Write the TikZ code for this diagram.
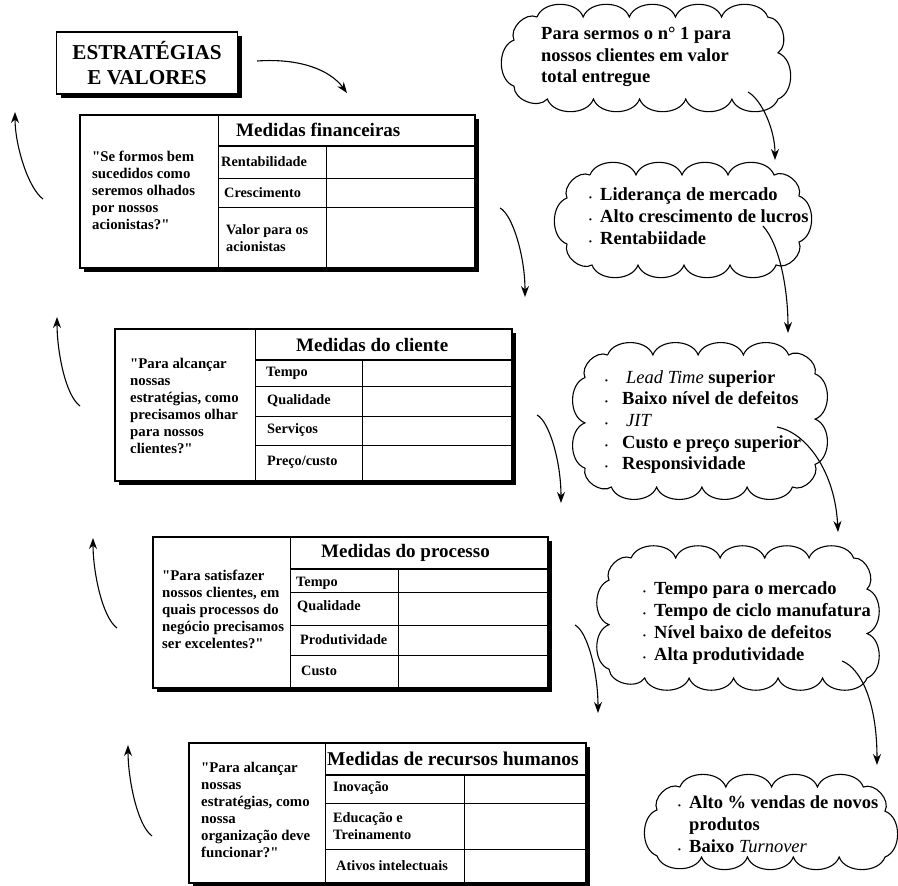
\documentclass[tikz,border=0pt]{standalone}
\usepackage{fontspec}
\setmainfont{Liberation Serif}
\usepackage{xcolor}
\usetikzlibrary{arrows.meta,shadows}

\tikzset{
  frame/.style={draw=black, line width=1.4pt, fill=white,
    drop shadow={shadow xshift=4pt, shadow yshift=-4pt, fill=black, opacity=1}},
  cell/.style={black, line width=0.8pt},
  hline/.style={black, line width=1.4pt},
  flow/.style={-{Stealth[length=11pt,width=8pt]}, line width=1.1pt},
  head/.style={anchor=west, inner sep=0pt, font=\fontsize{19}{21}\selectfont\bfseries},
  ask/.style={anchor=west, align=left, inner sep=0pt, font=\fontsize{14.8}{17}\selectfont\bfseries},
  row/.style={anchor=west, align=left, inner sep=0pt, font=\fontsize{14.3}{16.5}\selectfont\bfseries},
  puff/.style={draw, line width=1.1pt, fill=white},
  say/.style={anchor=west, align=left, inner sep=0pt, font=\fontsize{18.5}{21.7}\selectfont\bfseries},
}
\newcommand{\blt}[1][11pt]{\makebox[#1][l]{\footnotesize\textbullet}}
\newcommand{\qq}{\textquotedbl}
% nuvem: nome, cx, cy, a, b, bolhas
\newcommand{\nuvem}[6]{%
  \foreach \k in {0,...,#6} {
    \pgfmathsetmacro{\s}{mod((\k+0.5)*(4*#4+4*#5)/#6, 4*#4+4*#5)}
    \pgfmathsetmacro{\px}{ifthenelse(\s<2*#4, -#4+\s, ifthenelse(\s<2*#4+2*#5, #4, ifthenelse(\s<4*#4+2*#5, #4-(\s-2*#4-2*#5), -#4)))}
    \pgfmathsetmacro{\py}{ifthenelse(\s<2*#4, -#5, ifthenelse(\s<2*#4+2*#5, -#5+\s-2*#4, ifthenelse(\s<4*#4+2*#5, #5, #5-(\s-4*#4-2*#5))))}
    \coordinate (#1-\k) at (#2+\px, #3+\py);
  }
  \draw[puff] (#1-0) \foreach \k in {1,...,#6} { to[bend left=70] (#1-\k) };
}

\begin{document}
\begin{tikzpicture}[x=1pt, y=-1pt]
  \useasboundingbox (0,0) rectangle (898,886);

  %% titulo
  \node[frame, minimum width=181pt, minimum height=62pt, align=center,
        font=\fontsize{21.2}{25}\selectfont\bfseries] (title) at (147,63) {ESTRATÉGIAS\\E VALORES};

  %% financeiras
  \draw[frame] (80,115) rectangle (475,268);
  \draw[cell] (218,115) -- (218,268);
  \draw[hline] (218,146) -- (475,146);
  \draw[cell] (218,178) -- (475,178);
  \draw[cell] (218,207) -- (475,207);
  \draw[cell] (326,146) -- (326,268);
  \node[head] (fin-head) at (236,130) {Medidas financeiras};
  \node[ask] (fin-ask) at (92,190) {\qq Se formos bem\\sucedidos como\\seremos olhados\\por nossos\\acionistas?\qq};
  \node[row] (fin-r1) at (221,162) {Rentabilidade};
  \node[row] (fin-r2) at (224,193) {Crescimento};
  \node[row] (fin-r3) at (226,238) {Valor para os\\acionistas};

  %% cliente
  \draw[frame] (115,329) rectangle (512,481);
  \draw[cell] (255,329) -- (255,481);
  \draw[hline] (255,360) -- (512,360);
  \draw[cell] (255,386) -- (512,386);
  \draw[cell] (255,416) -- (512,416);
  \draw[cell] (255,445) -- (512,445);
  \draw[cell] (362,360) -- (362,481);
  \node[head] (cli-head) at (296,345) {Medidas do cliente};
  \node[ask] (cli-ask) at (130,406) {\qq Para alcançar\\nossas\\estratégias, como\\precisamos olhar\\para nossos\\clientes?\qq};
  \node[row] (cli-r1) at (266,373) {Tempo};
  \node[row] (cli-r2) at (267,401) {Qualidade};
  \node[row] (cli-r3) at (267,430) {Serviços};
  \node[row] (cli-r4) at (267,462) {Preço/custo};

  %% processo
  \draw[frame] (153,537) rectangle (548,688);
  \draw[cell] (290,537) -- (290,688);
  \draw[hline] (290,569) -- (548,569);
  \draw[cell] (290,592) -- (548,592);
  \draw[cell] (290,625) -- (548,625);
  \draw[cell] (290,655) -- (548,655);
  \draw[cell] (398,569) -- (398,688);
  \node[head] (proc-head) at (321,553) {Medidas do processo};
  \node[ask] (proc-ask) at (162,609) {\qq Para satisfazer\\nossos clientes, em\\quais processos do\\negócio precisamos\\ser excelentes?\qq};
  \node[row] (proc-r1) at (296,583) {Tempo};
  \node[row] (proc-r2) at (297,607) {Qualidade};
  \node[row] (proc-r3) at (300,640) {Produtividade};
  \node[row] (proc-r4) at (301,671) {Custo};

  %% recursos humanos
  \draw[frame] (189,743) rectangle (586,883);
  \draw[cell] (325,743) -- (325,883);
  \draw[hline] (325,775) -- (586,775);
  \draw[cell] (325,803) -- (586,803);
  \draw[cell] (325,849) -- (586,849);
  \draw[cell] (464,775) -- (464,883);
  \node[head, font=\fontsize{19.5}{21}\selectfont\bfseries] (rh-head) at (327,759) {Medidas de recursos humanos};
  \node[ask] (rh-ask) at (201,810) {\qq Para alcançar\\nossas\\estratégias, como\\nossa\\organização deve\\funcionar?\qq};
  \node[row] (rh-r1) at (333,788) {Inovação};
  \node[row] (rh-r2) at (333,826) {Educação e\\Treinamento};
  \node[row] (rh-r3) at (336,866) {Ativos intelectuais};

  %% nuvens
  \nuvem{goal}{646}{58}{132}{41}{15}
  \node[say] (goal-t) at (541,57) {Para sermos o n° 1 para\\nossos clientes em valor\\total entregue};

  \nuvem{lead}{683}{220}{116}{45}{14}
  \node[say] (lead-t) at (589,216) {\blt Liderança de mercado\\\blt Alto crescimento de lucros\\\blt Rentabiidade};

  \nuvem{cust}{700}{421}{115}{66}{16}
  \node[say] (cust-t) at (605,422) {\blt[21pt]{\mdseries\itshape Lead Time} superior\\\blt[17pt]Baixo nível de defeitos\\\blt[21pt]{\mdseries\itshape JIT}\\\blt[17pt]Custo e preço superior\\\blt[17pt]Responsividade};

  \nuvem{proc}{738}{618}{129}{60}{17}
  \node[say] (proc-t) at (643,623) {\blt Tempo para o mercado\\\blt Tempo de ciclo manufatura\\\blt Nível baixo de defeitos\\\blt Alta produtividade};

  \nuvem{gente}{771}{822}{114}{35}{13}
  \node[say] (gente-t) at (678,824) {\blt Alto \% vendas de novos\\\hspace*{11pt}produtos\\\blt Baixo {\mdseries\itshape Turnover}};

  %% setas
  \coordinate (title-out) at (257,61);
  \coordinate (fin-in) at (347,93);
  \draw[flow] (title-out) .. controls (300,58) and (330,70) .. (fin-in);

  \coordinate (fin-out) at (500,208);
  \coordinate (cli-in) at (525,297);
  \draw[flow] (fin-out) .. controls (512,214) and (525,255) .. (cli-in);
  \coordinate (cli-out) at (537,415);
  \coordinate (proc-in) at (561,503);
  \draw[flow] (cli-out) .. controls (549,421) and (561,461) .. (proc-in);
  \coordinate (proc-out) at (575,625);
  \coordinate (rh-in) at (598,713);
  \draw[flow] (proc-out) .. controls (587,631) and (598,671) .. (rh-in);

  \coordinate (up1-s) at (43,199);  \coordinate (up1-e) at (15,112);
  \draw[flow] (up1-s) .. controls (28,188) and (15,145) .. (up1-e);
  \coordinate (up2-s) at (80,406);  \coordinate (up2-e) at (57,317);
  \draw[flow] (up2-s) .. controls (65,395) and (57,350) .. (up2-e);
  \coordinate (up3-s) at (117,628); \coordinate (up3-e) at (93,538);
  \draw[flow] (up3-s) .. controls (102,617) and (93,571) .. (up3-e);
  \coordinate (up4-s) at (152,836); \coordinate (up4-e) at (128,745);
  \draw[flow] (up4-s) .. controls (137,825) and (128,778) .. (up4-e);

  \coordinate (goal-out) at (748,92);
  \coordinate (lead-in) at (775,160);
  \draw[flow] (goal-out) .. controls (762,100) and (775,130) .. (lead-in);
  \coordinate (lead-out) at (763,226);
  \coordinate (cust-in) at (788,333);
  \draw[flow] (lead-out) .. controls (780,245) and (788,290) .. (cust-in);
  \coordinate (cust-out) at (777,427);
  \coordinate (proc-in2) at (838,532);
  \draw[flow] (cust-out) .. controls (805,432) and (835,470) .. (proc-in2);
  \coordinate (proc-out2) at (842,661);
  \coordinate (gente-in) at (877,765);
  \draw[flow] (proc-out2) .. controls (860,668) and (877,700) .. (gente-in);
\end{tikzpicture}
\end{document}
